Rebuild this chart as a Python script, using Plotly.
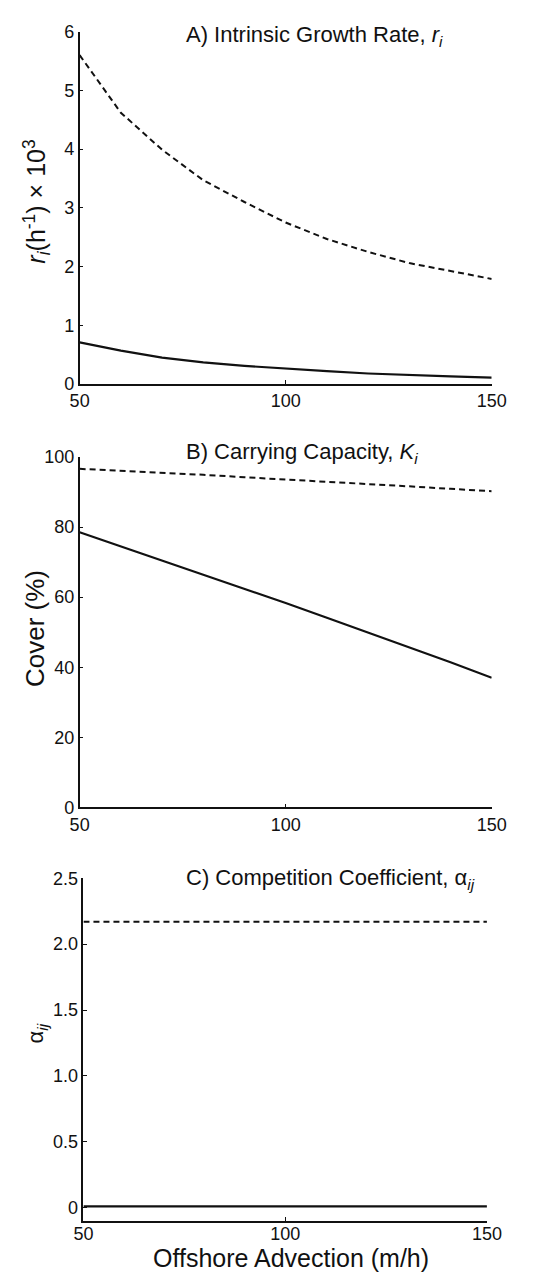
import plotly.graph_objects as go

W, H = 542, 1283

advection = [50, 60, 70, 80, 90, 100, 110, 120, 130, 140, 150]

# Panel A: intrinsic growth rate r_i (h^-1) x 10^3
r_dashed = [5.60, 4.62, 3.99, 3.47, 3.10, 2.75, 2.47, 2.25, 2.06, 1.92, 1.79]
r_solid = [0.71, 0.57, 0.45, 0.37, 0.31, 0.26, 0.22, 0.18, 0.15, 0.13, 0.11]

# Panel B: carrying capacity K_i (% cover)
k_dashed = [96.6, 96.1, 95.5, 94.9, 94.2, 93.6, 93.0, 92.3, 91.6, 90.9, 90.2]
k_solid = [78.5, 74.5, 70.4, 66.4, 62.4, 58.3, 54.1, 49.9, 45.7, 41.4, 37.0]

# Panel C: competition coefficient alpha_ij
a_dashed = [2.17, 2.17, 2.17, 2.17, 2.17, 2.17, 2.17, 2.17, 2.17, 2.17, 2.17]
a_solid = [0.01, 0.01, 0.01, 0.01, 0.01, 0.01, 0.01, 0.01, 0.01, 0.01, 0.01]

x_ticks = [50, 100, 150]
r_ticks = [0, 1, 2, 3, 4, 5, 6]
k_ticks = [0, 20, 40, 60, 80, 100]
a_ticks = [0, 0.5, 1.0, 1.5, 2.0, 2.5]
a_ticktext = ["0", "0.5", "1.0", "1.5", "2.0", "2.5"]

FONT = "Liberation Sans, Arial, Helvetica, sans-serif"
INK = "#111111"

def px_x(p):
    return p / W

def px_y(p):
    return 1 - p / H

fig = go.Figure()

panels = [
    ("x", "y", r_dashed, r_solid),
    ("x2", "y2", k_dashed, k_solid),
    ("x3", "y3", a_dashed, a_solid),
]
for xa, ya, dashed, solid in panels:
    fig.add_trace(go.Scatter(x=advection, y=dashed, mode="lines", xaxis=xa, yaxis=ya,
                             line=dict(color=INK, width=2, dash="6px,4px"), showlegend=False))
    fig.add_trace(go.Scatter(x=advection, y=solid, mode="lines", xaxis=xa, yaxis=ya,
                             line=dict(color=INK, width=2.2), showlegend=False))

axis_common = dict(showline=True, linecolor=INK, linewidth=1.5, mirror=False,
                   ticks="inside", ticklen=4, tickcolor=INK, showgrid=False, zeroline=False,
                   tickfont=dict(family=FONT, size=18, color=INK))

xdom_ab = [px_x(73), px_x(505)]
xdom_c = [px_x(77), px_x(500)]

fig.update_layout(
    width=W, height=H,
    margin=dict(l=0, r=0, t=0, b=0),
    paper_bgcolor="white", plot_bgcolor="white",
    showlegend=False,
    xaxis=dict(domain=xdom_ab, range=[50, 150], tickvals=x_ticks, anchor="y", **axis_common),
    yaxis=dict(domain=[px_y(380), px_y(22)], range=[0, 6], tickvals=r_ticks,
               anchor="x", **axis_common),
    xaxis2=dict(domain=xdom_ab, range=[50, 150], tickvals=x_ticks, anchor="y2", **axis_common),
    yaxis2=dict(domain=[px_y(810), px_y(454)], range=[0, 100], tickvals=k_ticks,
                anchor="x2", **axis_common),
    xaxis3=dict(domain=xdom_c, range=[50, 150], tickvals=x_ticks, anchor="y3",
                ticklabelstandoff=-4, **axis_common),
    yaxis3=dict(domain=[px_y(1230), px_y(882)], range=[-0.1, 2.5], tickvals=a_ticks,
                ticktext=a_ticktext, anchor="x3", **axis_common),
)

ann = []
def add_text(text, x, y, size, xanchor="center", yanchor="middle", angle=0):
    ann.append(dict(text=text, x=px_x(x), y=px_y(y), xref="paper", yref="paper",
                    xanchor=xanchor, yanchor=yanchor, showarrow=False, textangle=angle,
                    font=dict(family=FONT, size=size, color=INK)))

add_text("A) Intrinsic Growth Rate, <i>r</i><sub><i>i</i></sub>", 456, 10, 22, "right", "top")
add_text("B) Carrying Capacity, <i>K</i><sub><i>i</i></sub>", 430, 434, 22, "right", "top")
add_text("C) Competition Coefficient, α<sub><i>ij</i></sub>", 490, 866, 22, "right", "top")

add_text("<i>r</i><sub><i>i</i></sub>(h<sup>-1</sup>) × 10<sup>3</sup>", 28, 195, 25, angle=-90)
add_text("Cover (%)", 26, 628, 26, angle=-90)
add_text("α<sub><i>ij</i></sub>", 28, 1040, 22, angle=-90)
add_text("Offshore Advection (m/h)", 295, 1268, 25)

fig.update_layout(annotations=ann)

fig.write_html("out.html")
